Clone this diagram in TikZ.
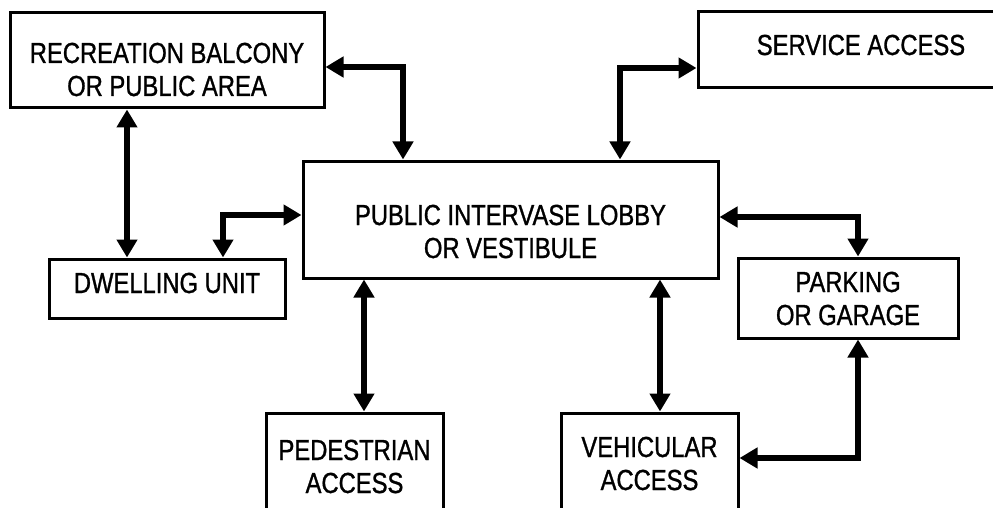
\documentclass[tikz,border=0pt]{standalone}
\usepackage{fontspec}
\setmainfont{Liberation Sans}[FakeStretch=0.82,FakeBold=1]
\usepackage{tikz}
\usetikzlibrary{arrows.meta}

\begin{document}
\begin{tikzpicture}[x=1pt,y=-1pt,
    room/.style={draw, line width=3pt, rectangle, inner sep=0pt, align=center, text=black,
        font=\fontsize{29}{33}\selectfont},
    link/.style={{Triangle[length=18pt,width=20pt]}-{Triangle[length=18pt,width=20pt]}, line width=6pt}]
    \clip (0,0) rectangle (993,508);
    \node[room, minimum width=314pt, minimum height=95pt, text height=80pt, text depth=9pt] (rec) at (167,60.5) {RECREATION BALCONY\\OR PUBLIC AREA};
    \node[room, minimum width=326pt, minimum height=76pt, text height=20pt, text depth=10pt] (svc) at (861,50) {SERVICE ACCESS};
    \node[room, minimum width=415pt, minimum height=117pt, text height=85pt, text depth=8pt] (lobby) at (510.5,219.5) {PUBLIC INTERVASE LOBBY\\OR VESTIBULE};
    \node[room, minimum width=236pt, minimum height=59pt, text height=20pt, text depth=11pt] (dwell) at (167,288.5) {DWELLING UNIT};
    \node[room, minimum width=220pt, minimum height=80pt, text height=60pt, text depth=6pt] (park) at (848,298) {PARKING\\OR GARAGE};
    \node[room, minimum width=177pt, minimum height=107pt, text height=60pt, text depth=7pt] (ped) at (354.5,466.5) {PEDESTRIAN\\ACCESS};
    \node[room, minimum width=177pt, minimum height=107pt, text height=55pt, text depth=8pt] (veh) at (649.5,466.5) {VEHICULAR\\ACCESS};
    \draw [link] ([yshift=-6.5pt]rec.east) -| ([xshift=-107.5pt]lobby.north);
    \draw [link] ([xshift=-40pt]rec.south) -- ([xshift=-40pt]dwell.north);
    \draw [link] ([xshift=56pt]dwell.north) |- ([yshift=4.5pt]lobby.west);
    \draw [link] ([xshift=109.5pt]lobby.north) |- ([yshift=-18pt]svc.west);
    \draw [link] ([yshift=2.5pt]lobby.east) -| ([xshift=10pt]park.north);
    \draw [link] ([xshift=-146.5pt]lobby.south) -- ([xshift=9.5pt]ped.north);
    \draw [link] ([xshift=149.5pt]lobby.south) -- ([xshift=10.5pt]veh.north);
    \draw [link] ([xshift=10pt]park.south) |- ([yshift=8.5pt]veh.east);
\end{tikzpicture}
\end{document}
